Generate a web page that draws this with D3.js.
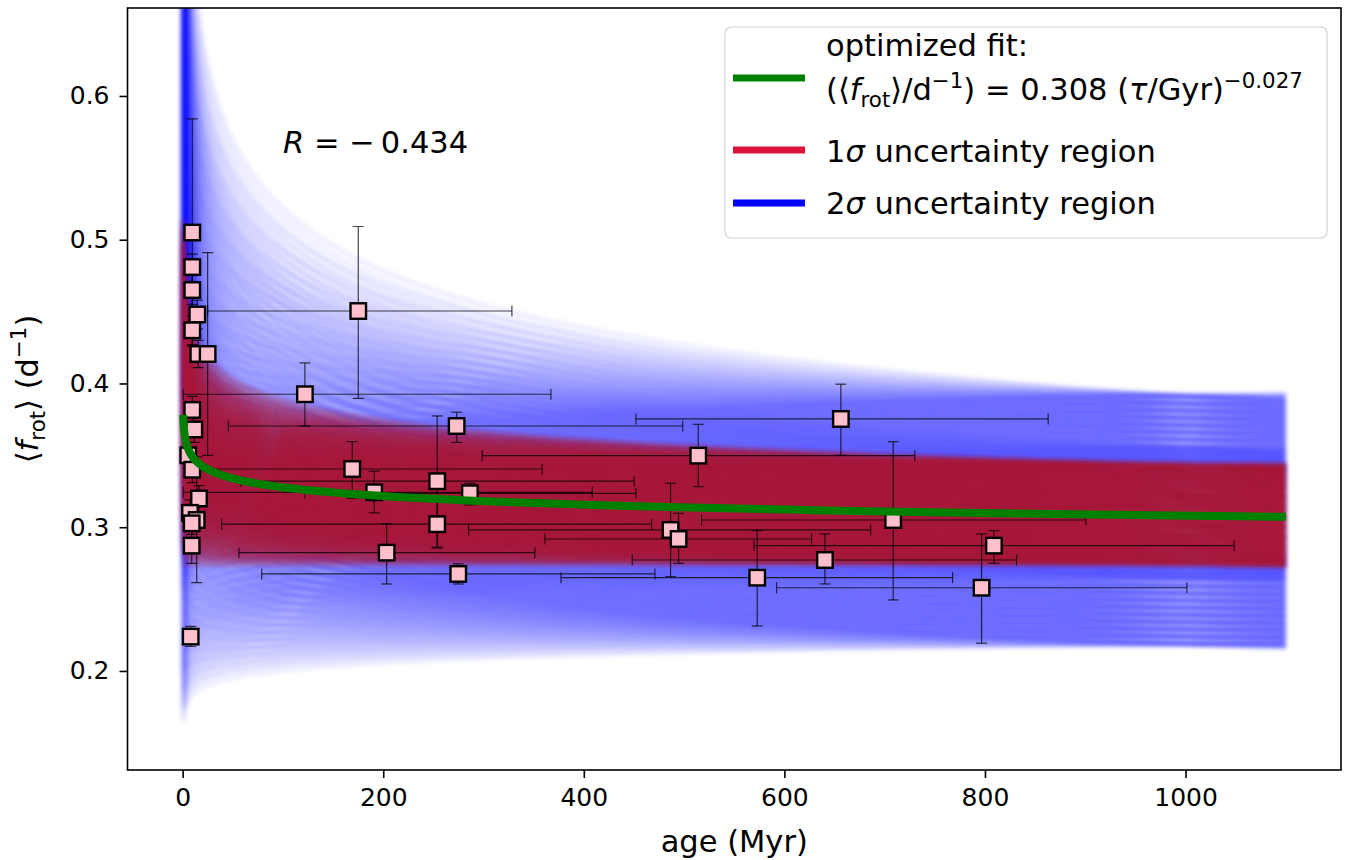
<!DOCTYPE html>
<html>
<head>
<meta charset="utf-8">
<script src="https://cdn.jsdelivr.net/npm/d3@7"></script>
<style>
  body { margin: 0; background: #fff; }
  svg text { font-family: "DejaVu Sans", sans-serif; fill: #000; }
</style>
</head>
<body>
<svg id="chart" width="1355" height="860"></svg>
<script>
// ---- cluster measurements: age (Myr) and mean rotation frequency (1/d) ----
const clusterAge  = [9.6, 9.6, 9.6, 14.6, 9.6, 15.6, 24.9, 9.6, 11.6, 5.6, 9.6, 16.3, 7.3, 14.0, 9.0, 9.0, 8.0,
                     121.9, 175.1, 169.1, 191.0, 203.4, 253.8, 253.8, 273.2, 274.8, 286.4,
                     486.5, 494.5, 514.1, 572.9, 640.4, 656.3, 708.5, 796.6, 808.9];
const clusterFrot = [0.505, 0.481, 0.465, 0.448, 0.437, 0.4205, 0.4205, 0.3816, 0.368, 0.350, 0.340, 0.320, 0.310, 0.305, 0.3027, 0.2872, 0.2239,
                     0.3925, 0.4504, 0.3405, 0.3243, 0.2823, 0.332, 0.3021, 0.3704, 0.2675, 0.3236,
                     0.2981, 0.2918, 0.3498, 0.2649, 0.2772, 0.3753, 0.305, 0.2579, 0.2872];
// lower / upper ends of the age intervals
const ageLow  = [5.6, 5.6, 5.6, 10.6, 5.6, 11.6, 20.9, 5.6, 7.6, 1.6, 5.6, 12.3, 3.3, 10.0, 5.0, 5.0, 4.0,
                 0.6, 24.9, 2.0, 0.6, 56.1, 58.0, 38.9, 45.5, 78.8, 121.9,
                 285.1, 361.2, 298.7, 377.2, 448.3, 452.0, 517.4, 592.2, 569.6];
const ageHigh = [13.6, 13.6, 13.6, 18.6, 13.6, 19.6, 28.9, 13.6, 15.6, 9.6, 13.6, 20.3, 11.3, 18.0, 13.0, 13.0, 12.0,
                 367.2, 328.3, 358.5, 408.4, 351.2, 450.2, 467.6, 498.6, 470.9, 452.0,
                 686.0, 627.1, 730.0, 767.7, 831.5, 863.0, 900.6, 1001.3, 1048.5];
// lower / upper ends of the frequency intervals
const frotLow  = [0.426, 0.471, 0.455, 0.438, 0.427, 0.411, 0.350, 0.372, 0.359, 0.341, 0.331, 0.311, 0.301, 0.2614, 0.295, 0.2748, 0.217,
                  0.3704, 0.3896, 0.3201, 0.310, 0.2605, 0.2862, 0.2855, 0.359, 0.2605, 0.3155,
                  0.2656, 0.2749, 0.3282, 0.2313, 0.2605, 0.350, 0.2494, 0.2193, 0.2749];
const frotHigh = [0.584, 0.490, 0.475, 0.458, 0.447, 0.430, 0.491, 0.391, 0.377, 0.359, 0.349, 0.329, 0.319, 0.349, 0.311, 0.2996, 0.231,
                  0.4143, 0.5092, 0.3595, 0.339, 0.3023, 0.3774, 0.3185, 0.380, 0.2745, 0.3305,
                  0.3306, 0.3097, 0.3716, 0.2976, 0.2953, 0.3995, 0.3595, 0.2953, 0.2976];

// ---- power-law model  <f_rot> = amp * (age/Gyr)^exp ----
const fitAmp = 0.308;
const fitExp = -0.027;
const correlationR = "0.434";

// parameter draws inside the 1-sigma region
const oneSigmaAmp = [0.275, 0.279, 0.283, 0.287, 0.291, 0.295, 0.299, 0.303, 0.307, 0.311, 0.315,
                     0.319, 0.323, 0.327, 0.331, 0.335, 0.339, 0.343];
const oneSigmaExp = [-0.053, -0.048, -0.043, -0.038, -0.033, -0.028, -0.023, -0.018, -0.013, -0.008, -0.004, 0.000];
// parameter draws inside the 2-sigma region
const twoSigmaAmp = [0.219, 0.224, 0.229, 0.234, 0.239, 0.244, 0.249, 0.254, 0.259, 0.264, 0.268, 0.272, 0.276, 0.281,
                     0.287, 0.294, 0.301, 0.308, 0.315, 0.322, 0.329, 0.335, 0.340, 0.344, 0.348, 0.352, 0.356,
                     0.361, 0.366, 0.371, 0.376, 0.381, 0.386, 0.391];
const twoSigmaExp = [-0.125, -0.112, -0.100, -0.088, -0.077, -0.066, -0.055, -0.045, -0.035, -0.025,
                     -0.015, -0.006, 0.004, 0.013, 0.022, 0.030, 0.038];

const xTicks = [0, 200, 400, 600, 800, 1000];
const yTicks = [0.2, 0.3, 0.4, 0.5, 0.6];
const modelAgeRange = [0.5, 1100];

// ---- layout ----
const plot = { left: 127.5, right: 1341, top: 8, bottom: 770 };

const svg = d3.select("#chart");
const x = d3.scaleLinear().domain([-55, 1155]).range([plot.left, plot.right]);
const y = d3.scaleLinear().domain([0.1311, 0.6612]).range([plot.bottom, plot.top]);

const defs = svg.append("defs");
defs.append("clipPath").attr("id", "plotClip")
  .append("rect")
  .attr("x", plot.left).attr("y", plot.top)
  .attr("width", plot.right - plot.left).attr("height", plot.bottom - plot.top);
defs.append("filter").attr("id", "soft").attr("x", "-5%").attr("y", "-5%").attr("width", "110%").attr("height", "110%")
  .append("feGaussianBlur").attr("stdDeviation", 2);

// model age grid (log-spaced so the steep young end is resolved)
const nGrid = 180;
const modelAges = d3.range(nGrid).map(i =>
  modelAgeRange[0] * Math.pow(modelAgeRange[1] / modelAgeRange[0], i / (nGrid - 1)));
const powerLaw = (amp, ex) => modelAges.map(a => [a, amp * Math.pow(a / 1000, ex)]);

const line = d3.line().x(d => x(d[0])).y(d => y(d[1]));

const bands = svg.append("g").attr("clip-path", "url(#plotClip)");

// 2-sigma curves
const twoSigmaCurves = d3.cross(twoSigmaAmp, twoSigmaExp).map(([a, e]) => powerLaw(a, e));
bands.append("g").attr("filter", "url(#soft)")
  .selectAll("path").data(twoSigmaCurves).join("path")
  .attr("d", line)
  .attr("fill", "none")
  .attr("stroke", "#0000ff")
  .attr("stroke-opacity", 0.075)
  .attr("stroke-width", 5);

// 1-sigma curves
const oneSigmaCurves = d3.cross(oneSigmaAmp, oneSigmaExp).map(([a, e]) => powerLaw(a, e));
bands.append("g").attr("filter", "url(#soft)")
  .selectAll("path").data(oneSigmaCurves).join("path")
  .attr("d", line)
  .attr("fill", "none")
  .attr("stroke", "#a8163a")
  .attr("stroke-opacity", 0.42)
  .attr("stroke-width", 5);

// ---- error bars ----
const pts = clusterAge.map((a, i) => ({
  age: a, f: clusterFrot[i],
  aLo: ageLow[i], aHi: ageHigh[i], fLo: frotLow[i], fHi: frotHigh[i]
}));

const errG = svg.append("g").attr("clip-path", "url(#plotClip)")
  .attr("stroke", "#000").attr("stroke-opacity", 0.72).attr("stroke-width", 1.2).attr("fill", "none");
const cap = 5.5;
pts.forEach(p => {
  const cx = x(p.age), cy = y(p.f);
  const x0 = x(p.aLo), x1 = x(p.aHi), y0 = y(p.fLo), y1 = y(p.fHi);
  errG.append("line").attr("x1", x0).attr("x2", x1).attr("y1", cy).attr("y2", cy);
  errG.append("line").attr("x1", cx).attr("x2", cx).attr("y1", y0).attr("y2", y1);
  errG.append("line").attr("x1", x0).attr("x2", x0).attr("y1", cy - cap).attr("y2", cy + cap);
  errG.append("line").attr("x1", x1).attr("x2", x1).attr("y1", cy - cap).attr("y2", cy + cap);
  errG.append("line").attr("x1", cx - cap).attr("x2", cx + cap).attr("y1", y0).attr("y2", y0);
  errG.append("line").attr("x1", cx - cap).attr("x2", cx + cap).attr("y1", y1).attr("y2", y1);
});

// ---- markers ----
const side = 15.5;
svg.append("g").selectAll("rect").data(pts).join("rect")
  .attr("x", d => x(d.age) - side / 2)
  .attr("y", d => y(d.f) - side / 2)
  .attr("width", side).attr("height", side)
  .attr("fill", "#ffc0cb")
  .attr("stroke", "#000")
  .attr("stroke-width", 2.4);

// ---- best fit ----
svg.append("path")
  .attr("clip-path", "url(#plotClip)")
  .attr("d", line(powerLaw(fitAmp, fitExp)))
  .attr("fill", "none")
  .attr("stroke", "#008000")
  .attr("stroke-width", 8);

// ---- axes frame ----
svg.append("rect")
  .attr("x", plot.left).attr("y", plot.top)
  .attr("width", plot.right - plot.left).attr("height", plot.bottom - plot.top)
  .attr("fill", "none").attr("stroke", "#000").attr("stroke-width", 1.6);

const xAxis = d3.axisBottom(x).tickValues(xTicks).tickSize(8).tickPadding(10).tickFormat(d3.format("d"));
const gx = svg.append("g").attr("transform", `translate(0,${plot.bottom})`).call(xAxis);
gx.select(".domain").remove();
gx.selectAll(".tick line").attr("stroke", "#000").attr("stroke-width", 1.6);
gx.selectAll(".tick text").attr("font-size", 25).attr("font-family", "DejaVu Sans").attr("fill", "#000");

const yAxis = d3.axisLeft(y).tickValues(yTicks).tickSize(8).tickPadding(10).tickFormat(d3.format(".1f"));
const gy = svg.append("g").attr("transform", `translate(${plot.left},0)`).call(yAxis);
gy.select(".domain").remove();
gy.selectAll(".tick line").attr("stroke", "#000").attr("stroke-width", 1.6);
gy.selectAll(".tick text").attr("font-size", 25).attr("font-family", "DejaVu Sans").attr("fill", "#000");

// ---- mathtext-like rich text ----
function rich(sel, parts, size) {
  let shift = 0;
  parts.forEach(p => {
    const t = sel.append("tspan").text(p.t);
    const target = p.sub ? size * 0.22 : p.sup ? -size * 0.40 : 0;
    t.attr("dy", target - shift);
    shift = target;
    if (p.sub || p.sup) t.attr("font-size", size * 0.7);
    if (p.it) t.attr("font-style", "italic");
  });
}

const labelSize = 30.5;

svg.append("text")
  .attr("x", (plot.left + plot.right) / 2).attr("y", 852)
  .attr("text-anchor", "middle").attr("font-size", labelSize)
  .text("age (Myr)");

const yl = svg.append("text")
  .attr("transform", `translate(38,${(plot.top + plot.bottom) / 2}) rotate(-90)`)
  .attr("text-anchor", "middle").attr("font-size", labelSize);
rich(yl, [{ t: "⟨" }, { t: "f", it: true }, { t: "rot", sub: true }, { t: "⟩ (d" }, { t: "−1", sup: true }, { t: ")" }], labelSize);

const rt = svg.append("text").attr("x", 283).attr("y", 153).attr("font-size", labelSize);
rich(rt, [{ t: "R", it: true }, { t: " = −\u2009" + correlationR }], labelSize);

// ---- legend ----
const lg = svg.append("g");
lg.append("rect")
  .attr("x", 725).attr("y", 27).attr("width", 602).attr("height", 211).attr("rx", 6)
  .attr("fill", "#fff").attr("fill-opacity", 0.8)
  .attr("stroke", "#d3d3d3").attr("stroke-width", 1.2);

const legendItems = [
  { color: "#008000", yLine: 78 },
  { color: "#dc143c", yLine: 150 },
  { color: "#0000ff", yLine: 203 }
];
lg.selectAll("line").data(legendItems).join("line")
  .attr("x1", 733).attr("x2", 805)
  .attr("y1", d => d.yLine).attr("y2", d => d.yLine)
  .attr("stroke", d => d.color).attr("stroke-width", 7);

const legendSize = 30.5;
lg.append("text").attr("x", 826).attr("y", 56).attr("font-size", legendSize).text("optimized fit:");
const fl = lg.append("text").attr("x", 826).attr("y", 100).attr("font-size", legendSize);
rich(fl, [{ t: "(⟨" }, { t: "f", it: true }, { t: "rot", sub: true }, { t: "⟩/d" }, { t: "−1", sup: true },
          { t: ") = " + fitAmp.toFixed(3) + " (" }, { t: "τ", it: true }, { t: "/Gyr)" },
          { t: "−" + Math.abs(fitExp).toFixed(3), sup: true }], legendSize);
const s1 = lg.append("text").attr("x", 826).attr("y", 162).attr("font-size", legendSize);
rich(s1, [{ t: "1" }, { t: "σ", it: true }, { t: " uncertainty region" }], legendSize);
const s2 = lg.append("text").attr("x", 826).attr("y", 214).attr("font-size", legendSize);
rich(s2, [{ t: "2" }, { t: "σ", it: true }, { t: " uncertainty region" }], legendSize);
</script>
</body>
</html>
